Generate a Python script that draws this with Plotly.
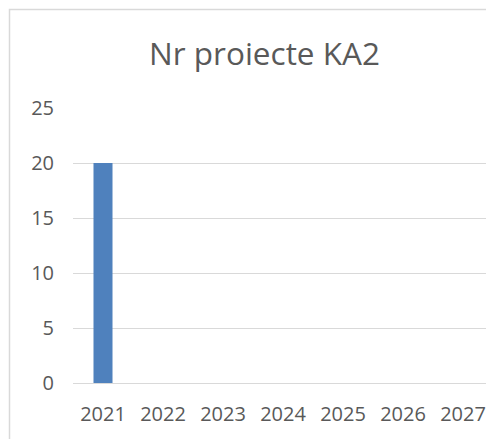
import plotly.graph_objects as go

# Data
years = ["2021", "2022", "2023", "2024", "2025", "2026", "2027"]
projects = [20, 0, 0, 0, 0, 0, 0]
y_ticks = [0, 5, 10, 15, 20, 25]

W, H = 486, 439
L, R, T, B = 73, 0, 108, 56
plot_w = W - L - R
plot_h = H - T - B

text_color = "#595959"
grid_color = "#d9d9d9"
font_family = "Open Sans, Noto Sans, sans-serif"

fig = go.Figure(
    go.Bar(
        x=years,
        y=projects,
        marker=dict(color="#4f81bd", line=dict(width=0)),
        hoverinfo="x+y",
    )
)

# chart frame (only its top-left corner falls inside the page)
def px_x(p):
    return (p - L) / plot_w

def px_y(p):
    return (H - B - p) / plot_h

fig.add_shape(
    type="rect", xref="paper", yref="paper",
    x0=px_x(9.5), x1=px_x(700), y0=px_y(700), y1=px_y(9.5),
    line=dict(color=grid_color, width=1.5), fillcolor="rgba(0,0,0,0)",
    layer="below",
)

fig.update_layout(
    width=W, height=H,
    margin=dict(l=L, r=R, t=T, b=B, autoexpand=False),
    paper_bgcolor="white", plot_bgcolor="white",
    bargap=0.683,
    showlegend=False,
    font=dict(family=font_family, color=text_color, size=20),
    title=dict(
        text="Nr proiecte KA2",
        x=px_x(264.5), xref="paper", xanchor="center",
        y=(H - 54) / H, yref="container", yanchor="middle",
        font=dict(size=31.5, color=text_color, family=font_family),
    ),
    xaxis=dict(
        type="category",
        range=[-0.5, -0.5 + plot_w / 60],
        showgrid=False, showline=False, zeroline=False,
        ticks="", ticklabelstandoff=17,
        tickfont=dict(size=20, color=text_color),
        automargin=False,
    ),
    yaxis=dict(
        range=[0, 25],
        tickvals=y_ticks,
        showgrid=True, gridcolor=grid_color, gridwidth=1,
        zeroline=True, zerolinecolor=grid_color, zerolinewidth=1,
        showline=False, ticks="", ticklabelstandoff=18,
        tickfont=dict(size=20, color=text_color),
        automargin=False,
    ),
)

fig.write_html("out.html")
